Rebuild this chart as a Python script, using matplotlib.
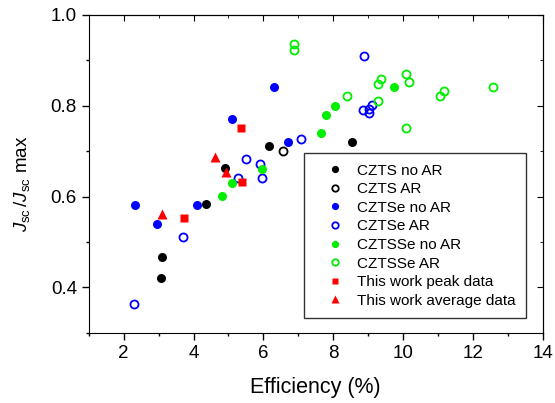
import matplotlib
matplotlib.use('Agg')
import matplotlib.pyplot as plt
from matplotlib.ticker import MultipleLocator

plt.rcParams['font.family'] = ['Liberation Sans', 'DejaVu Sans']
plt.rcParams['mathtext.fontset'] = 'custom'
plt.rcParams['mathtext.rm'] = 'Liberation Sans'
plt.rcParams['mathtext.it'] = 'Liberation Sans:italic'

# data (efficiency %, Jsc/Jsc max)
czts_noar_x = [3.06, 3.09, 4.37, 4.91, 6.17, 8.54]
czts_noar_y = [0.421, 0.467, 0.584, 0.663, 0.711, 0.720]

czts_ar_x = [6.57]
czts_ar_y = [0.700]

cztse_noar_x = [2.31, 2.94, 4.09, 5.09, 6.29, 6.71]
cztse_noar_y = [0.581, 0.540, 0.581, 0.770, 0.841, 0.720]

cztse_ar_x = [2.29, 3.69, 5.26, 5.49, 5.91, 5.97, 7.09, 8.86, 8.89, 9.03, 9.03, 9.11]
cztse_ar_y = [0.364, 0.511, 0.641, 0.682, 0.671, 0.641, 0.726, 0.790, 0.909, 0.792, 0.783, 0.801]

cztsse_noar_x = [4.80, 5.11, 5.97, 7.66, 7.80, 8.06, 9.74]
cztsse_noar_y = [0.601, 0.630, 0.660, 0.740, 0.780, 0.800, 0.841]

cztsse_ar_x = [6.89, 6.89, 8.38, 9.29, 9.29, 9.37, 10.09, 10.17, 10.09, 11.06, 11.17, 12.57]
cztsse_ar_y = [0.935, 0.922, 0.821, 0.810, 0.849, 0.860, 0.871, 0.852, 0.751, 0.821, 0.832, 0.841]

peak_x = [3.74, 5.37, 5.40]
peak_y = [0.553, 0.751, 0.632]

avg_x = [3.11, 4.60, 4.94]
avg_y = [0.562, 0.687, 0.654]

blue = '#0000ff'
green = '#00ee00'
red = '#ff0000'

fig = plt.figure(figsize=(5.55, 4.03), dpi=100)
ax = fig.add_axes([0.160, 0.174, 0.818, 0.789])

ms = 6.5
ax.plot(czts_noar_x, czts_noar_y, 'o', color='k', ms=ms, mec='none', label='CZTS no AR')
ax.plot(czts_ar_x, czts_ar_y, 'o', mfc='none', mec='k', ms=5.8, mew=1.3, label='CZTS AR')
ax.plot(cztse_noar_x, cztse_noar_y, 'o', color=blue, ms=ms, mec='none', label='CZTSe no AR')
ax.plot(cztse_ar_x, cztse_ar_y, 'o', mfc='none', mec=blue, ms=5.8, mew=1.3, label='CZTSe AR')
ax.plot(cztsse_noar_x, cztsse_noar_y, 'o', color=green, ms=ms, mec='none', label='CZTSSe no AR')
ax.plot(cztsse_ar_x, cztsse_ar_y, 'o', mfc='none', mec=green, ms=5.8, mew=1.3, label='CZTSSe AR')
ax.plot(peak_x, peak_y, 's', color=red, ms=5.8, mec='none', label='This work peak data')
ax.plot(avg_x, avg_y, '^', color=red, ms=7, mec='none', label='This work average data')

ax.set_xlim(1, 14)
ax.set_ylim(0.3, 1.0)
ax.xaxis.set_major_locator(MultipleLocator(2))
ax.xaxis.set_minor_locator(MultipleLocator(1))
ax.yaxis.set_major_locator(MultipleLocator(0.2))
ax.yaxis.set_minor_locator(MultipleLocator(0.1))
ax.tick_params(which='both', direction='out', labelsize=13.5, width=1)
ax.tick_params(which='major', length=5)
ax.tick_params(which='minor', length=2.5)

# top and right ticks point inward
top = ax.secondary_xaxis('top')
top.xaxis.set_major_locator(MultipleLocator(2))
top.xaxis.set_minor_locator(MultipleLocator(1))
top.tick_params(which='both', direction='in', labeltop=False)
top.tick_params(which='major', length=4.5)
top.tick_params(which='minor', length=2)
right = ax.secondary_yaxis('right')
right.yaxis.set_major_locator(MultipleLocator(0.2))
right.yaxis.set_minor_locator(MultipleLocator(0.1))
right.tick_params(which='both', direction='in', labelright=False)
right.tick_params(which='major', length=4.5)
right.tick_params(which='minor', length=2)

ax.set_xlabel('Efficiency (%)', fontsize=15.5, labelpad=11)
ax.set_ylabel(r'$J_{\rm sc}\,/J_{\rm sc}$ max', fontsize=13.5)
ax.yaxis.set_label_coords(-0.125, 0.47)

leg = ax.legend(loc='upper right', bbox_to_anchor=(0.963, 0.566), borderaxespad=0,
                fontsize=11, frameon=True, fancybox=False, edgecolor='k',
                markerscale=0.8, labelspacing=0.3, handlelength=2.65,
                handletextpad=0.11, borderpad=0.7)
leg.get_frame().set_linewidth(1)

plt.savefig('out.png', dpi=100)
